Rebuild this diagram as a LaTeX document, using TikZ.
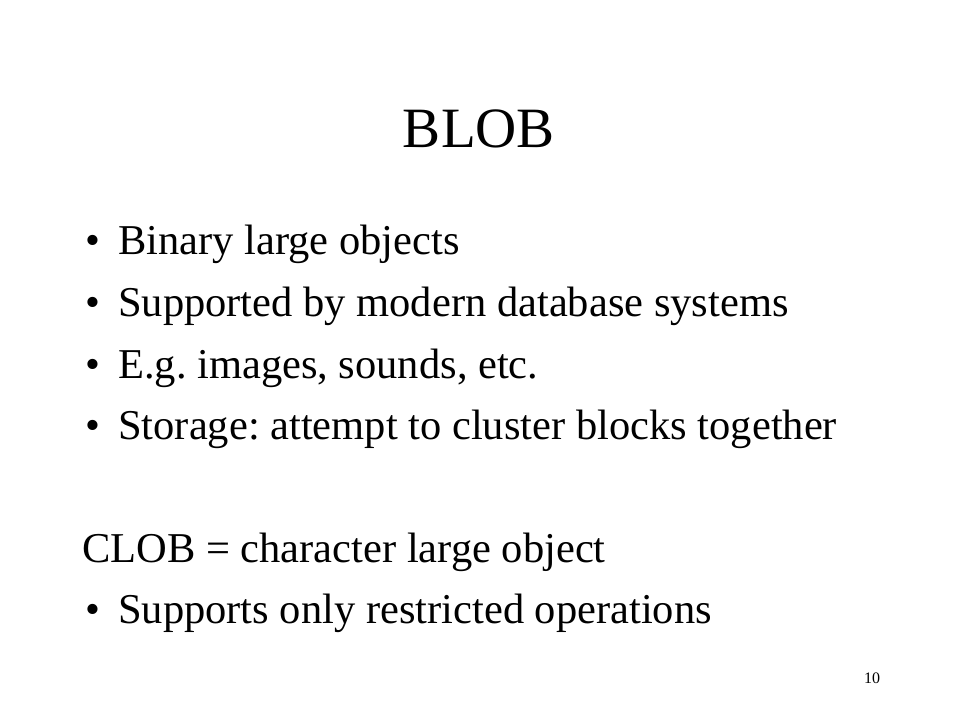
\documentclass[tikz,border=0pt]{standalone}
\usepackage{fontspec}
\setmainfont{Liberation Serif}
\frenchspacing
\tikzset{
  line/.style={anchor=base west,inner sep=0pt,font=\fontsize{42.5}{50}\selectfont},
  dot/.style={anchor=base,inner sep=0pt,font=\fontsize{42.5}{50}\selectfont}
}
\begin{document}
\begin{tikzpicture}[x=1pt,y=-1pt]
      \useasboundingbox (0,0) rectangle (960,720);
      \node[anchor=base,inner sep=0pt,font=\fontsize{57}{64}\selectfont] at (479,147) (title) {BLOB};

      % bullet lines
      \node[dot] at (93,254) (d1) {\textbullet};
      \node[line] at (118,254) (l1) {Binary large objects};
      \node[dot] at (93,316) (d2) {\textbullet};
      \node[line] at (118,316) (l2) {Supported by modern database systems};
      \node[dot] at (93,378) (d3) {\textbullet};
      \node[line] at (118,378) (l3) {E.g. images, sounds, etc.};
      \node[dot] at (93,439) (d4) {\textbullet};
      \node[line] at (118,439) (l4) {Storage: attempt to cluster blocks together};

      \node[line] at (82,562) (clob) {CLOB = character large object};
      \node[dot] at (93,623) (d5) {\textbullet};
      \node[line] at (118,623) (l5) {Supports only restricted operations};

      \node[anchor=base,inner sep=0pt,font=\fontsize{16}{18}\selectfont] at (872,683) (page) {10};
  \end{tikzpicture}
\end{document}
